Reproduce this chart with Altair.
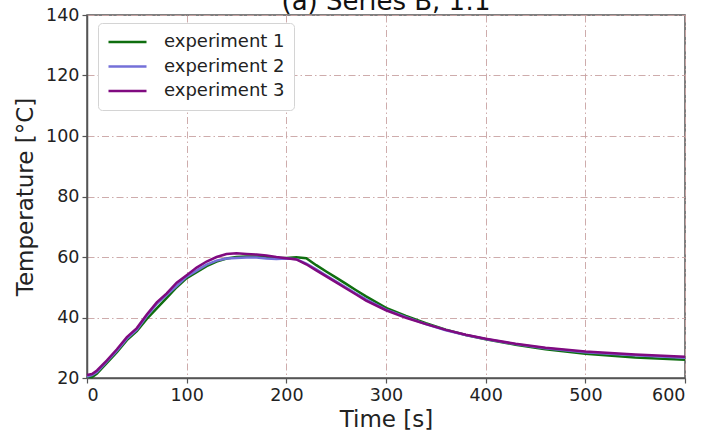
import altair as alt
import pandas as pd

title_text = ["(a) Series B, 1:1"]
times = [0, 5, 10, 20, 30, 40, 50, 60, 70, 80, 90, 100, 110, 120, 130, 140, 150, 160, 170, 180,
         190, 200, 210, 220, 230, 240, 250, 260, 270, 280, 300, 320, 340, 360, 380, 400, 430,
         460, 500, 550, 600]
exp1 = [20.5, 20.3, 21.5, 25, 28.5, 32.5, 35.5, 39.5, 43, 46.5, 50, 53, 55, 57, 58.5, 59.5, 60,
        60.2, 60.2, 60, 59.7, 59.7, 59.9, 59.6, 57.3, 55.2, 53.2, 51.1, 49.0, 47.0, 43.2, 40.5,
        38.1, 36, 34.2, 32.8, 31, 29.5, 28, 26.8, 26]
exp2 = [20.5, 21, 22, 25.5, 29, 33, 36, 40.5, 44.5, 47.5, 50.5, 53.5, 55.5, 57.5, 58.8, 59.5,
        59.7, 59.8, 59.8, 59.5, 59.3, 59.5, 59.3, 57.8, 55.9, 53.9, 51.9, 49.9, 47.9, 46.0, 42.6,
        40.1, 37.8, 35.8, 34.2, 32.9, 31.2, 29.8, 28.5, 27.5, 26.7]
exp3 = [21, 21.3, 22.5, 25.8, 29.5, 33.5, 36.5, 41, 45, 48, 51.5, 54, 56.5, 58.5, 60, 61, 61.2,
        61, 60.8, 60.5, 60, 59.6, 59.2, 57.6, 55.6, 53.6, 51.6, 49.6, 47.6, 45.6, 42.4, 39.9,
        37.8, 35.9, 34.3, 33, 31.3, 30, 28.8, 27.8, 27]
series = ["experiment 1", "experiment 2", "experiment 3"]
colors = ["#0f6e0f", "#7470d8", "#800a80"]

rows = []
for name, vals in zip(series, [exp1, exp2, exp3]):
    for t, v in zip(times, vals):
        rows.append({"time": t, "temp": v, "series": name, "order": series.index(name)})
df = pd.DataFrame(rows)

grid_color = "#c9a3a3"
dash = [7, 3, 1.5, 3]

lines = alt.Chart(df).mark_line(strokeWidth=2.5).encode(
    x=alt.X("time:Q", title="Time [s]",
            scale=alt.Scale(domain=[0, 600], nice=False),
            axis=alt.Axis(values=[0, 100, 200, 300, 400, 500, 600])),
    y=alt.Y("temp:Q", title="Temperature [°C]",
            scale=alt.Scale(domain=[20, 140], nice=False),
            axis=alt.Axis(values=[20, 40, 60, 80, 100, 120, 140])),
    color=alt.Color("series:N", scale=alt.Scale(domain=series, range=colors),
                    legend=alt.Legend(title=None, orient="none", legendX=11, legendY=8,
                                      symbolType="stroke", symbolSize=1444,
                                      symbolStrokeWidth=2.5, labelFontSize=18,
                                      labelColor="#222", rowPadding=4.5,
                                      clipHeight=20,
                                      padding=9, strokeColor="#d4d4d4",
                                      fillColor="white", cornerRadius=4,
                                      labelOffset=16)),
    order="order:Q",
)

title = alt.Chart(pd.DataFrame({"t": title_text})).mark_text(
    font="DejaVu Sans", fontSize=26, color="#111", align="center", baseline="alphabetic"
).encode(text="t:N", x=alt.value(299), y=alt.value(-5))

chart = alt.layer(lines, title).properties(
    width=598, height=363,
    padding={"left": 87, "top": 15, "right": 20, "bottom": 59},
    autosize=alt.AutoSizeParams(type="none"),
).configure_view(
    stroke="#555", strokeWidth=1.5
).configure_axis(
    labelFont="DejaVu Sans", titleFont="DejaVu Sans",
    labelFontSize=17.5, titleFontSize=23, labelColor="#222", titleColor="#222",
    titleFontWeight="normal",
    gridColor=grid_color, gridDash=dash, gridWidth=1, gridOpacity=0.9,
    domainColor="#555", domainWidth=1.5, tickColor="#555", tickSize=5, tickWidth=1.2,
    labelPadding=3,
).configure_axisX(titlePadding=5).configure_axisY(titlePadding=8).configure_legend(
    labelFont="DejaVu Sans"
)

chart.save("out.html", embed_options={"renderer": "svg", "actions": False})
